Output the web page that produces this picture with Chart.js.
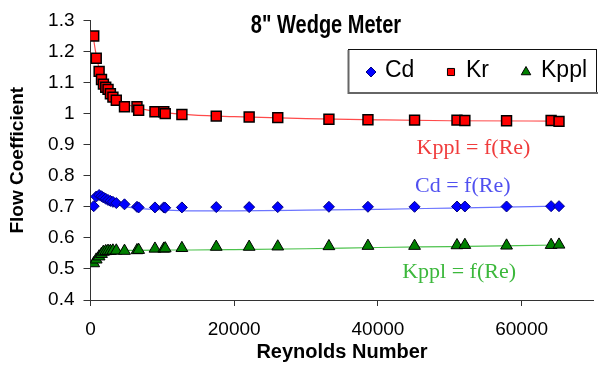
<!DOCTYPE html>
<html>
<head>
<meta charset="utf-8">
<script src="https://cdn.jsdelivr.net/npm/chart.js@4.4.1/dist/chart.umd.min.js"></script>
<style>
  html, body { margin: 0; padding: 0; background: #fff; overflow: hidden; }
  #wrap { width: 602px; height: 367px; }
</style>
</head>
<body>
<div id="wrap"><canvas id="flowChart" width="602" height="367"></canvas></div>
<script>
// measured points (same Reynolds numbers for all three coefficients)
const reynolds = [450, 800, 1200, 1530, 1800, 2120, 2440, 2770, 3120, 3590, 4730, 6470, 6700,
  8970, 10200, 10400, 12720, 17500, 22080, 26060, 33180, 38610, 45100, 51000, 52100, 57900, 64100, 65200];
const cdValues = [0.702, 0.733, 0.738, 0.734, 0.730, 0.726, 0.722, 0.719, 0.716, 0.712, 0.708, 0.700, 0.698,
  0.698, 0.698, 0.697, 0.698, 0.699, 0.699, 0.699, 0.700, 0.700, 0.700, 0.701, 0.701, 0.701, 0.702, 0.702];
const krValues = [1.250, 1.178, 1.136, 1.110, 1.095, 1.085, 1.078, 1.064, 1.053, 1.043, 1.022, 1.022, 1.011,
  1.006, 1.006, 1.000, 0.997, 0.992, 0.989, 0.987, 0.982, 0.980, 0.979, 0.979, 0.978, 0.977, 0.978, 0.975];
const kpplValues = [0.518, 0.530, 0.540, 0.548, 0.555, 0.557, 0.558, 0.558, 0.559, 0.559, 0.558, 0.560, 0.561,
  0.565, 0.565, 0.566, 0.567, 0.571, 0.571, 0.572, 0.573, 0.574, 0.574, 0.576, 0.577, 0.575, 0.577, 0.578];

// fitted curves
const trendRe = [400, 700, 1000, 1500, 2000, 3000, 4000, 5000, 7000, 10000, 14000, 20000, 30000, 40000, 50000, 65000];
const cdTrend = [0.728, 0.728, 0.727, 0.724, 0.720, 0.712, 0.705, 0.700, 0.694, 0.690, 0.687, 0.687, 0.689, 0.692, 0.696, 0.702];
const krTrend = [1.245, 1.200, 1.165, 1.120, 1.090, 1.058, 1.040, 1.030, 1.016, 1.004, 0.996, 0.990, 0.984, 0.980, 0.977, 0.976];
const kpplTrend = [0.522, 0.535, 0.545, 0.553, 0.557, 0.559, 0.560, 0.560, 0.560, 0.561, 0.561, 0.562, 0.565, 0.569, 0.572, 0.577];

const xTickValues = [0, 20000, 40000, 60000];
const chartTitle = "8\" Wedge Meter";
const seriesNames = ["Cd", "Kr", "Kppl"];
const xTitle = "Reynolds Number";
const yTitle = "Flow Coefficient";

const SANS = "'Liberation Sans', Arial, sans-serif";
const SERIF = "'Liberation Serif', 'Times New Roman', serif";

const pts = vals => reynolds.map((x, i) => ({ x, y: vals[i] }));
const fit = vals => trendRe.map((x, i) => ({ x, y: vals[i] }));

const markers = [
  { pointStyle: "rectRot", radius: 5.5, fill: "#0000ff", border: "#000080", width: 1 },
  { pointStyle: "rect", radius: 7, fill: "#ff0000", border: "#000000", width: 1.5 },
  { pointStyle: "triangle", radius: 6.8, fill: "#008000", border: "#000000", width: 1 }
];

const notes = [
  { text: "Kppl = f(Re)", x: 53300, y: 0.889, color: "#f03c3c" },
  { text: "Cd = f(Re)", x: 51800, y: 0.767, color: "#5050f0" },
  { text: "Kppl = f(Re)", x: 51300, y: 0.491, color: "#3cb83c" }
];

function markerSet(idx, vals) {
  const m = markers[idx];
  return {
    label: seriesNames[idx], data: pts(vals), pointStyle: m.pointStyle, pointRadius: m.radius,
    backgroundColor: m.fill, borderColor: m.border, borderWidth: m.width, order: 0
  };
}
function trendSet(vals, color) {
  return {
    label: "fit", data: fit(vals), showLine: true, pointRadius: 0, borderColor: color,
    borderWidth: 1.2, cubicInterpolationMode: "monotone", order: 1
  };
}

function drawMarker(ctx, m, x, y, r) {
  ctx.fillStyle = m.fill;
  ctx.strokeStyle = m.border;
  ctx.lineWidth = 1;
  if (Chart.helpers && Chart.helpers.drawPoint) {
    Chart.helpers.drawPoint(ctx, { pointStyle: m.pointStyle, radius: r, borderWidth: 1, rotation: 0 }, x, y);
  }
}

const overlay = {
  id: "overlay",
  afterDraw(chart) {
    const { ctx, scales: { x, y } } = chart;

    // title
    ctx.save();
    ctx.fillStyle = "#000";
    ctx.font = "bold 20px " + SANS;
    ctx.textAlign = "center";
    ctx.textBaseline = "middle";
    ctx.translate(326, 26);
    ctx.scale(1, 1.25);
    ctx.fillText(chartTitle, 0, 0);
    ctx.restore();

    // curve labels
    ctx.save();
    ctx.font = "22px " + SERIF;
    ctx.textAlign = "center";
    ctx.textBaseline = "middle";
    notes.forEach(n => {
      ctx.fillStyle = n.color;
      ctx.fillText(n.text, x.getPixelForValue(n.x), y.getPixelForValue(n.y));
    });
    ctx.restore();

    // legend box
    ctx.save();
    ctx.fillStyle = "#fff";
    ctx.fillRect(348.5, 49.5, 248, 43);
    ctx.strokeStyle = "#111";
    ctx.lineWidth = 1;
    ctx.strokeRect(348.5, 49.5, 248, 43);
    ctx.strokeStyle = "#666";
    ctx.lineWidth = 2;
    ctx.beginPath();
    ctx.moveTo(348.5, 50);
    ctx.lineTo(348.5, 93);
    ctx.lineTo(598, 93);
    ctx.stroke();

    const items = [
      { mx: 371, tx: 385, r: 5 },
      { mx: 451, tx: 466, r: 5 },
      { mx: 526, tx: 541, r: 5.5 }
    ];
    ctx.font = "23px " + SANS;
    ctx.textAlign = "left";
    ctx.textBaseline = "middle";
    items.forEach((it, i) => {
      drawMarker(ctx, markers[i], it.mx, 72, it.r);
      ctx.fillStyle = "#000";
      ctx.fillText(seriesNames[i], it.tx, 71);
    });
    ctx.restore();
  }
};

const ctx = document.getElementById("flowChart").getContext("2d");

new Chart(ctx, {
  type: "scatter",
  data: {
    datasets: [
      markerSet(0, cdValues),
      markerSet(1, krValues),
      markerSet(2, kpplValues),
      trendSet(cdTrend, "#6b74ff"),
      trendSet(krTrend, "#ff4a4a"),
      trendSet(kpplTrend, "#4cc24c")
    ]
  },
  options: {
    responsive: false,
    animation: false,
    layout: { padding: { top: 17.5, right: 0, bottom: 0, left: 0 } },
    plugins: {
      legend: { display: false },
      tooltip: { enabled: false }
    },
    scales: {
      x: {
        type: "linear",
        min: 0,
        max: 70000,
        ticks: {
          padding: 12,
          maxRotation: 0,
          autoSkip: false,
          color: "#000",
          font: { family: SANS, size: 19 },
          callback: v => String(v)
        },
        afterBuildTicks: s => { s.ticks = xTickValues.map(v => ({ value: v })); },
        grid: { drawOnChartArea: false, tickLength: 6, color: "#333" },
        border: { color: "#333" },
        title: {
          display: true,
          text: xTitle,
          color: "#000",
          font: { family: SANS, size: 20, weight: "bold" },
          padding: { top: 0, bottom: 3 }
        },
        afterFit: s => { s.height = 67; }
      },
      y: {
        min: 0.4,
        max: 1.3,
        ticks: {
          stepSize: 0.1,
          padding: 9,
          color: "#000",
          font: { family: SANS, size: 19 },
          callback: v => String(Math.round(v * 10) / 10)
        },
        grid: { drawOnChartArea: false, tickLength: 7, color: "#333" },
        border: { color: "#333" },
        title: {
          display: true,
          text: yTitle,
          color: "#000",
          font: { family: SANS, size: 19, weight: "bold" },
          padding: { top: 6, bottom: 0 }
        },
        afterFit: s => { s.width = 90.5; }
      }
    }
  },
  plugins: [overlay]
});
</script>
</body>
</html>
